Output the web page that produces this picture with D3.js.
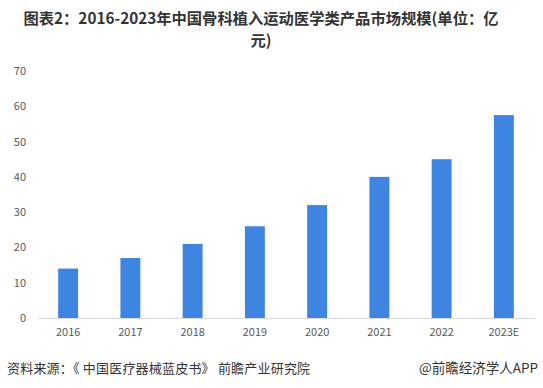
<!DOCTYPE html>
<html>
<head>
<meta charset="utf-8">
<script src="https://cdn.jsdelivr.net/npm/d3@7"></script>
<style>
  body { margin: 0; background: #fff; }
  svg text { font-family: "Microsoft YaHei", "Noto Sans CJK SC", sans-serif; }
</style>
</head>
<body>
<div id="chart"></div>
<script>
const years = ['2016', '2017', '2018', '2019', '2020', '2021', '2022', '2023E'];
const values = [14, 17, 21, 26, 32, 40, 45, 57.5];
const yTicks = [0, 10, 20, 30, 40, 50, 60, 70];

const width = 543, height = 388;
const margin = { top: 71, right: 8, bottom: 70, left: 37 };
const W = width - margin.left - margin.right;
const H = height - margin.top - margin.bottom;

const svg = d3.select('#chart').append('svg')
  .attr('width', width).attr('height', height);

// Title
const title = svg.append('text')
  .attr('text-anchor', 'middle').attr('fill', '#333')
  .attr('font-size', '15.3px').attr('font-weight', 'bold');
title.append('tspan').attr('x', 261).attr('y', 24)
  .text('图表2：2016-2023年中国骨科植入运动医学类产品市场规模(单位：亿');
title.append('tspan').attr('x', 261).attr('y', 46).text('元)');

const x = d3.scaleBand().domain(years).range([0, W])
  .paddingInner(0.68).paddingOuter(0.34);
const y = d3.scaleLinear().domain([0, 70]).range([H, 0]);

const g = svg.append('g').attr('transform', `translate(${margin.left},${margin.top})`);

// Y axis (labels only)
const yAxis = g.append('g').call(d3.axisLeft(y).tickValues(yTicks).tickSize(0).tickPadding(11));
yAxis.select('.domain').remove();
yAxis.selectAll('text').attr('fill', '#595959').attr('font-size', '11px')
  .attr('font-family', '"Open Sans", sans-serif');

// X axis
const xAxis = g.append('g').attr('transform', `translate(0,${H})`)
  .call(d3.axisBottom(x).tickSize(0).tickPadding(10));
xAxis.select('.domain').attr('stroke', '#d9d9d9');
xAxis.selectAll('text').attr('fill', '#595959').attr('font-size', '11px')
  .attr('font-family', '"Open Sans", sans-serif');

// Bars
g.selectAll('rect.bar').data(values).join('rect')
  .attr('class', 'bar')
  .attr('x', (d, i) => x(years[i]))
  .attr('y', d => y(d))
  .attr('width', x.bandwidth())
  .attr('height', d => H - y(d))
  .attr('fill', '#3d85e0');

// Footer
svg.append('text').attr('x', 7).attr('y', 373)
  .attr('fill', '#333').attr('font-size', '13px').attr('letter-spacing', '0.2px')
  .text('资料来源：《 中国医疗器械蓝皮书》 前瞻产业研究院');
svg.append('text').attr('x', 538).attr('y', 373)
  .attr('text-anchor', 'end').attr('fill', '#333').attr('font-size', '13.5px')
  .text('@前瞻经济学人APP');
</script>
</body>
</html>
